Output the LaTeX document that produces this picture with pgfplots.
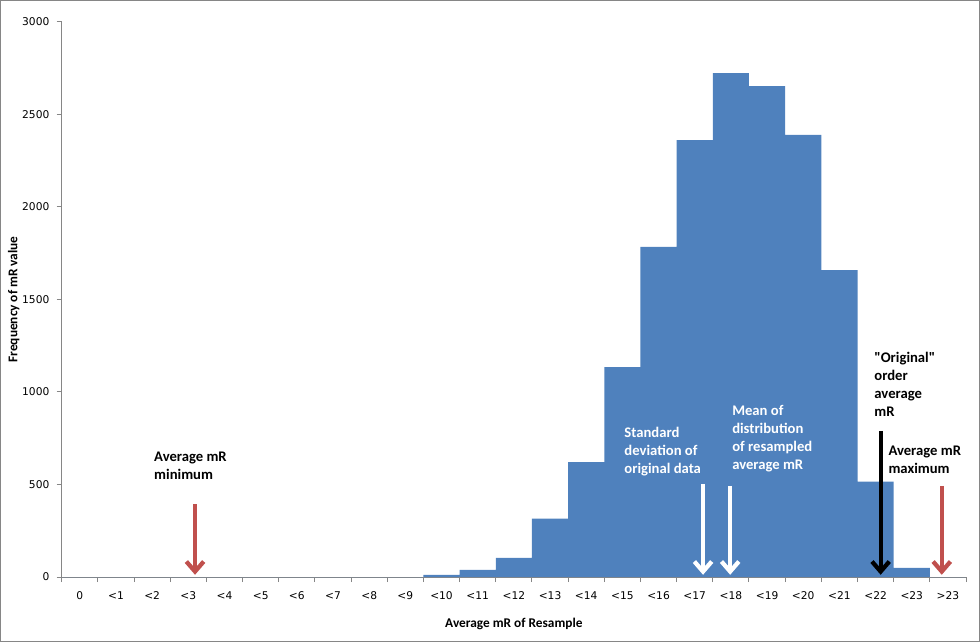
\documentclass[border=0pt]{standalone}
\usepackage{fontspec}
\setmainfont{Carlito}
\newfontfamily\plaincarlito{Carlito}
\newfontfamily\tickfont{DejaVu Sans}
\usepackage{pgfplots}
\pgfplotsset{compat=1.18}
\usetikzlibrary{arrows.meta}
\definecolor{barblue}{HTML}{4F81BD}
\definecolor{arrred}{HTML}{C0504D}
\definecolor{axgray}{RGB}{134,134,134}

\pgfplotstableread{
x y
0 0
1 0
2 0
3 0
4 0
5 0
6 0
7 0
8 0
9 0
10 11
11 39
12 104
13 315
14 621
15 1135
16 1785
17 2362
18 2724
19 2654
20 2390
21 1659
22 515
23 50
24 0
}\histdata

\begin{document}
\begin{tikzpicture}
\useasboundingbox (0,0) rectangle (735pt,481.5pt);
\draw[axgray, line width=0.75pt] (0.375pt,0.375pt) rectangle (734.625pt,481.125pt);
\begin{axis}[
  at={(46.3pt,48.75pt)}, anchor=south west,
  scale only axis, width=678.2pt, height=416.25pt,
  xmin=-0.5, xmax=24.5, ymin=0, ymax=3000,
  enlargelimits=false,
  ybar, bar width=1,
  axis x line*=bottom, axis y line*=left,
  axis line style={-, draw=axgray, line width=0.75pt},
  tick align=outside,
  xtick={0,...,24},
  xticklabels={0,<1,<2,<3,<4,<5,<6,<7,<8,<9,<10,<11,<12,<13,<14,<15,<16,<17,<18,<19,<20,<21,<22,<23,>23},
  major x tick style={draw=none},
  minor xtick={-0.5,0.5,...,24.5},
  minor tick length=3.75pt, major tick length=3.75pt,
  tick style={axgray, line width=0.75pt},
  ytick={0,500,...,3000},
  /pgf/number format/assume math mode=true,
  /pgf/number format/set thousands separator={},
  ticklabel style={font=\tickfont\fontsize{8}{9}\selectfont, text=black},
  xticklabel style={yshift=-4pt},
  yticklabel style={xshift=-2pt},
  xlabel={\bfseries Average mR of Resample},
  ylabel={\bfseries Frequency of mR value},
  label style={font=\fontsize{10}{12}\selectfont},
  xlabel style={at={(axis description cs:0.5,0)}, anchor=center, yshift=-35pt},
  ylabel style={at={(axis description cs:0,0.5)}, anchor=center, yshift=36pt},
  clip=false,
]
\addplot[fill=barblue, draw=none] table[x=x,y=y] {\histdata};

\begin{scope}[font=\bfseries\fontsize{11}{13.5}\selectfont,
  blk/.style={line width=3.2pt, -{Straight Barb[length=7.5pt,width=13pt]}}]
% arrows
\draw[arrred, blk] (axis cs:3.185,392) -- (axis cs:3.185,12);
\draw[white, blk] (axis cs:17.23,503) -- (axis cs:17.23,12);
\draw[white, blk] (axis cs:17.98,492) -- (axis cs:17.98,12);
\draw[black, blk] (axis cs:22.14,790) -- (axis cs:22.14,12);
\draw[arrred, blk] (axis cs:23.83,492) -- (axis cs:23.83,12);
% texts
\node[anchor=north west, inner sep=0pt, align=left] at (axis cs:2.05,676) {Average mR\\minimum};
\node[anchor=north west, inner sep=0pt, align=left, text=white] at (axis cs:15.05,811) {Standard\\deviation of\\original data};
\node[anchor=north west, inner sep=0pt, align=left, text=white] at (axis cs:18.03,930) {Mean of\\distribution\\of resampled\\average mR};
\node[anchor=north west, inner sep=0pt, align=left] at (axis cs:21.96,1216) {{\plaincarlito"Original"}\\order\\average\\mR};
\node[anchor=north west, inner sep=0pt, align=left] at (axis cs:22.35,708) {Average mR\\maximum};
\end{scope}
\end{axis}
\end{tikzpicture}
\end{document}
